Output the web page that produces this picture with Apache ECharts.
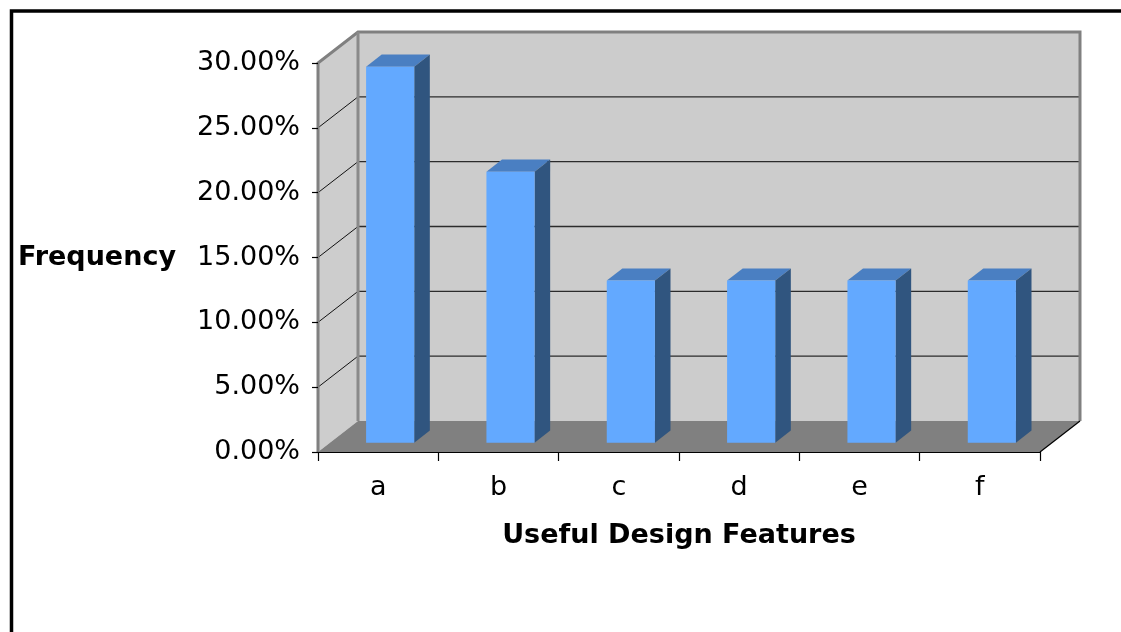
<!DOCTYPE html>
<html>
<head>
<meta charset="utf-8">
<script src="https://cdn.jsdelivr.net/npm/echarts@6/dist/echarts.min.js"></script>
<style>
  html, body { margin: 0; padding: 0; background: #ffffff; }
  #chart { width: 1121px; height: 632px; }
</style>
</head>
<body>
<div id="chart"></div>
<script>
// Survey results: share of respondents choosing each design feature
const categories = ['a', 'b', 'c', 'd', 'e', 'f'];
const frequency = [0.29, 0.209, 0.125, 0.125, 0.125, 0.125];
const yTicks = [0, 0.05, 0.10, 0.15, 0.20, 0.25, 0.30];

// 3D projection of the depth axis (pixels per full depth)
const DEPTH_X = 40;
const DEPTH_Y = -31;
const BAR_FRONT = 0.30;   // fraction of depth where bar front faces sit
const BAR_DEPTH = 0.39;   // bar thickness as a fraction of depth
const BAR_WIDTH = 0.40;   // bar width as a fraction of the category band

const FONT = '"DejaVu Sans", Verdana, sans-serif';

const chart = echarts.init(document.getElementById('chart'), null, { renderer: 'canvas' });

function renderWalls(params, api) {
  const cs = params.coordSys;
  const x0 = cs.x, y0 = cs.y, x1 = cs.x + cs.width, y1 = cs.y + cs.height;
  const bx0 = x0 + DEPTH_X, by0 = y0 + DEPTH_Y, bx1 = x1 + DEPTH_X, by1 = y1 + DEPTH_Y;
  const children = [];
  // side wall
  children.push({ type: 'polygon', shape: { points: [[x0, y0], [bx0, by0], [bx0, by1], [x0, y1]] },
    style: { fill: '#cdcdcd' } });
  // back wall
  children.push({ type: 'rect', shape: { x: bx0, y: by0, width: bx1 - bx0, height: by1 - by0 },
    style: { fill: '#cccccc' } });
  // floor
  children.push({ type: 'polygon', shape: { points: [[x0, y1], [bx0, by1], [bx1, by1], [x1, y1]] },
    style: { fill: '#808080' } });
  // gridlines on back wall and side wall
  yTicks.forEach(function (v) {
    if (v <= yTicks[0] || v >= yTicks[yTicks.length - 1]) return;
    const y = api.coord([0, v])[1];
    children.push({ type: 'line', shape: { x1: bx0, y1: y + DEPTH_Y, x2: bx1, y2: y + DEPTH_Y },
      style: { stroke: '#2b2b2b', lineWidth: 1.3 } });
    children.push({ type: 'line', shape: { x1: x0, y1: y, x2: bx0, y2: y + DEPTH_Y },
      style: { stroke: '#111111', lineWidth: 1 } });
  });
  // wall edges
  children.push({ type: 'polyline', shape: { points: [[x0, y1], [x0, y0], [bx0, by0], [bx1, by0], [bx1, by1]] },
    style: { stroke: '#808080', lineWidth: 3, fill: null } });
  children.push({ type: 'line', shape: { x1: bx0, y1: by0, x2: bx0, y2: by1 },
    style: { stroke: '#8a8a8a', lineWidth: 3 } });
  // floor right edge
  children.push({ type: 'line', shape: { x1: x1, y1: y1, x2: bx1, y2: by1 },
    style: { stroke: '#000000', lineWidth: 1.2 } });
  return { type: 'group', children: children };
}

function renderBar(params, api) {
  const i = api.value(0);
  const v = api.value(1);
  const base = api.coord([i, 0]);
  const top = api.coord([i, v]);
  const w = api.size([1, 0])[0] * BAR_WIDTH;
  const ox = DEPTH_X * BAR_FRONT, oy = DEPTH_Y * BAR_FRONT;
  const dx = DEPTH_X * BAR_DEPTH, dy = DEPTH_Y * BAR_DEPTH;
  const xl = base[0] - w / 2 + ox, xr = base[0] + w / 2 + ox;
  const yt = top[1] + oy, yb = base[1] + oy;
  return {
    type: 'group',
    children: [
      { type: 'polygon', shape: { points: [[xl, yt], [xl + dx, yt + dy], [xr + dx, yt + dy], [xr, yt]] },
        style: { fill: '#4a7fc2' } },
      { type: 'polygon', shape: { points: [[xr, yt], [xr + dx, yt + dy], [xr + dx, yb + dy], [xr, yb]] },
        style: { fill: '#30557f' } },
      { type: 'rect', shape: { x: xl, y: yt, width: xr - xl, height: yb - yt },
        style: { fill: '#63a9ff' } }
    ]
  };
}

chart.setOption({
  backgroundColor: '#ffffff',
  animation: false,
  graphic: [{
    type: 'rect', left: 9, top: 8.5, z: 100,
    shape: { width: 1300, height: 800 },
    style: { fill: null, stroke: '#000000', lineWidth: 3.5 }
  }],
  grid: { left: 318, top: 63, width: 722, height: 389 },
  xAxis: {
    type: 'category',
    data: categories,
    boundaryGap: true,
    axisLine: { show: true, lineStyle: { color: '#000000', width: 1.2 } },
    axisTick: { show: true, length: 9, lineStyle: { color: '#000000', width: 1.2 } },
    axisLabel: { margin: 22, color: '#000000', fontSize: 27, fontFamily: FONT },
    splitLine: { show: false },
    name: 'Useful Design Features',
    nameLocation: 'middle',
    nameGap: 70,
    nameTextStyle: { color: '#000000', fontSize: 27, fontWeight: 'bold', fontFamily: FONT },
    z: 10
  },
  yAxis: {
    type: 'value',
    min: yTicks[0],
    max: yTicks[yTicks.length - 1],
    interval: yTicks[1] - yTicks[0],
    axisLine: { show: false },
    axisTick: { show: true, length: 6, lineStyle: { color: '#000000', width: 1.2 } },
    axisLabel: {
      margin: 18, color: '#000000', fontSize: 27, fontFamily: FONT,
      padding: [5, 0, 0, 0],
      formatter: function (v) { return (v * 100).toFixed(2) + '%'; }
    },
    splitLine: { show: false },
    name: 'Frequency',
    nameLocation: 'middle',
    nameRotate: 0,
    nameGap: 142,
    nameTextStyle: { color: '#000000', fontSize: 27, fontWeight: 'bold', fontFamily: FONT,
      padding: [4, 0, 0, 0] },
    z: 10
  },
  series: [
    {
      type: 'custom',
      name: 'walls',
      renderItem: renderWalls,
      data: [[0, 0]],
      clip: false,
      silent: true,
      z: 1
    },
    {
      type: 'custom',
      name: 'Frequency',
      renderItem: renderBar,
      data: frequency.map(function (v, i) { return [i, v]; }),
      clip: false,
      z: 5
    }
  ]
});
</script>
</body>
</html>
